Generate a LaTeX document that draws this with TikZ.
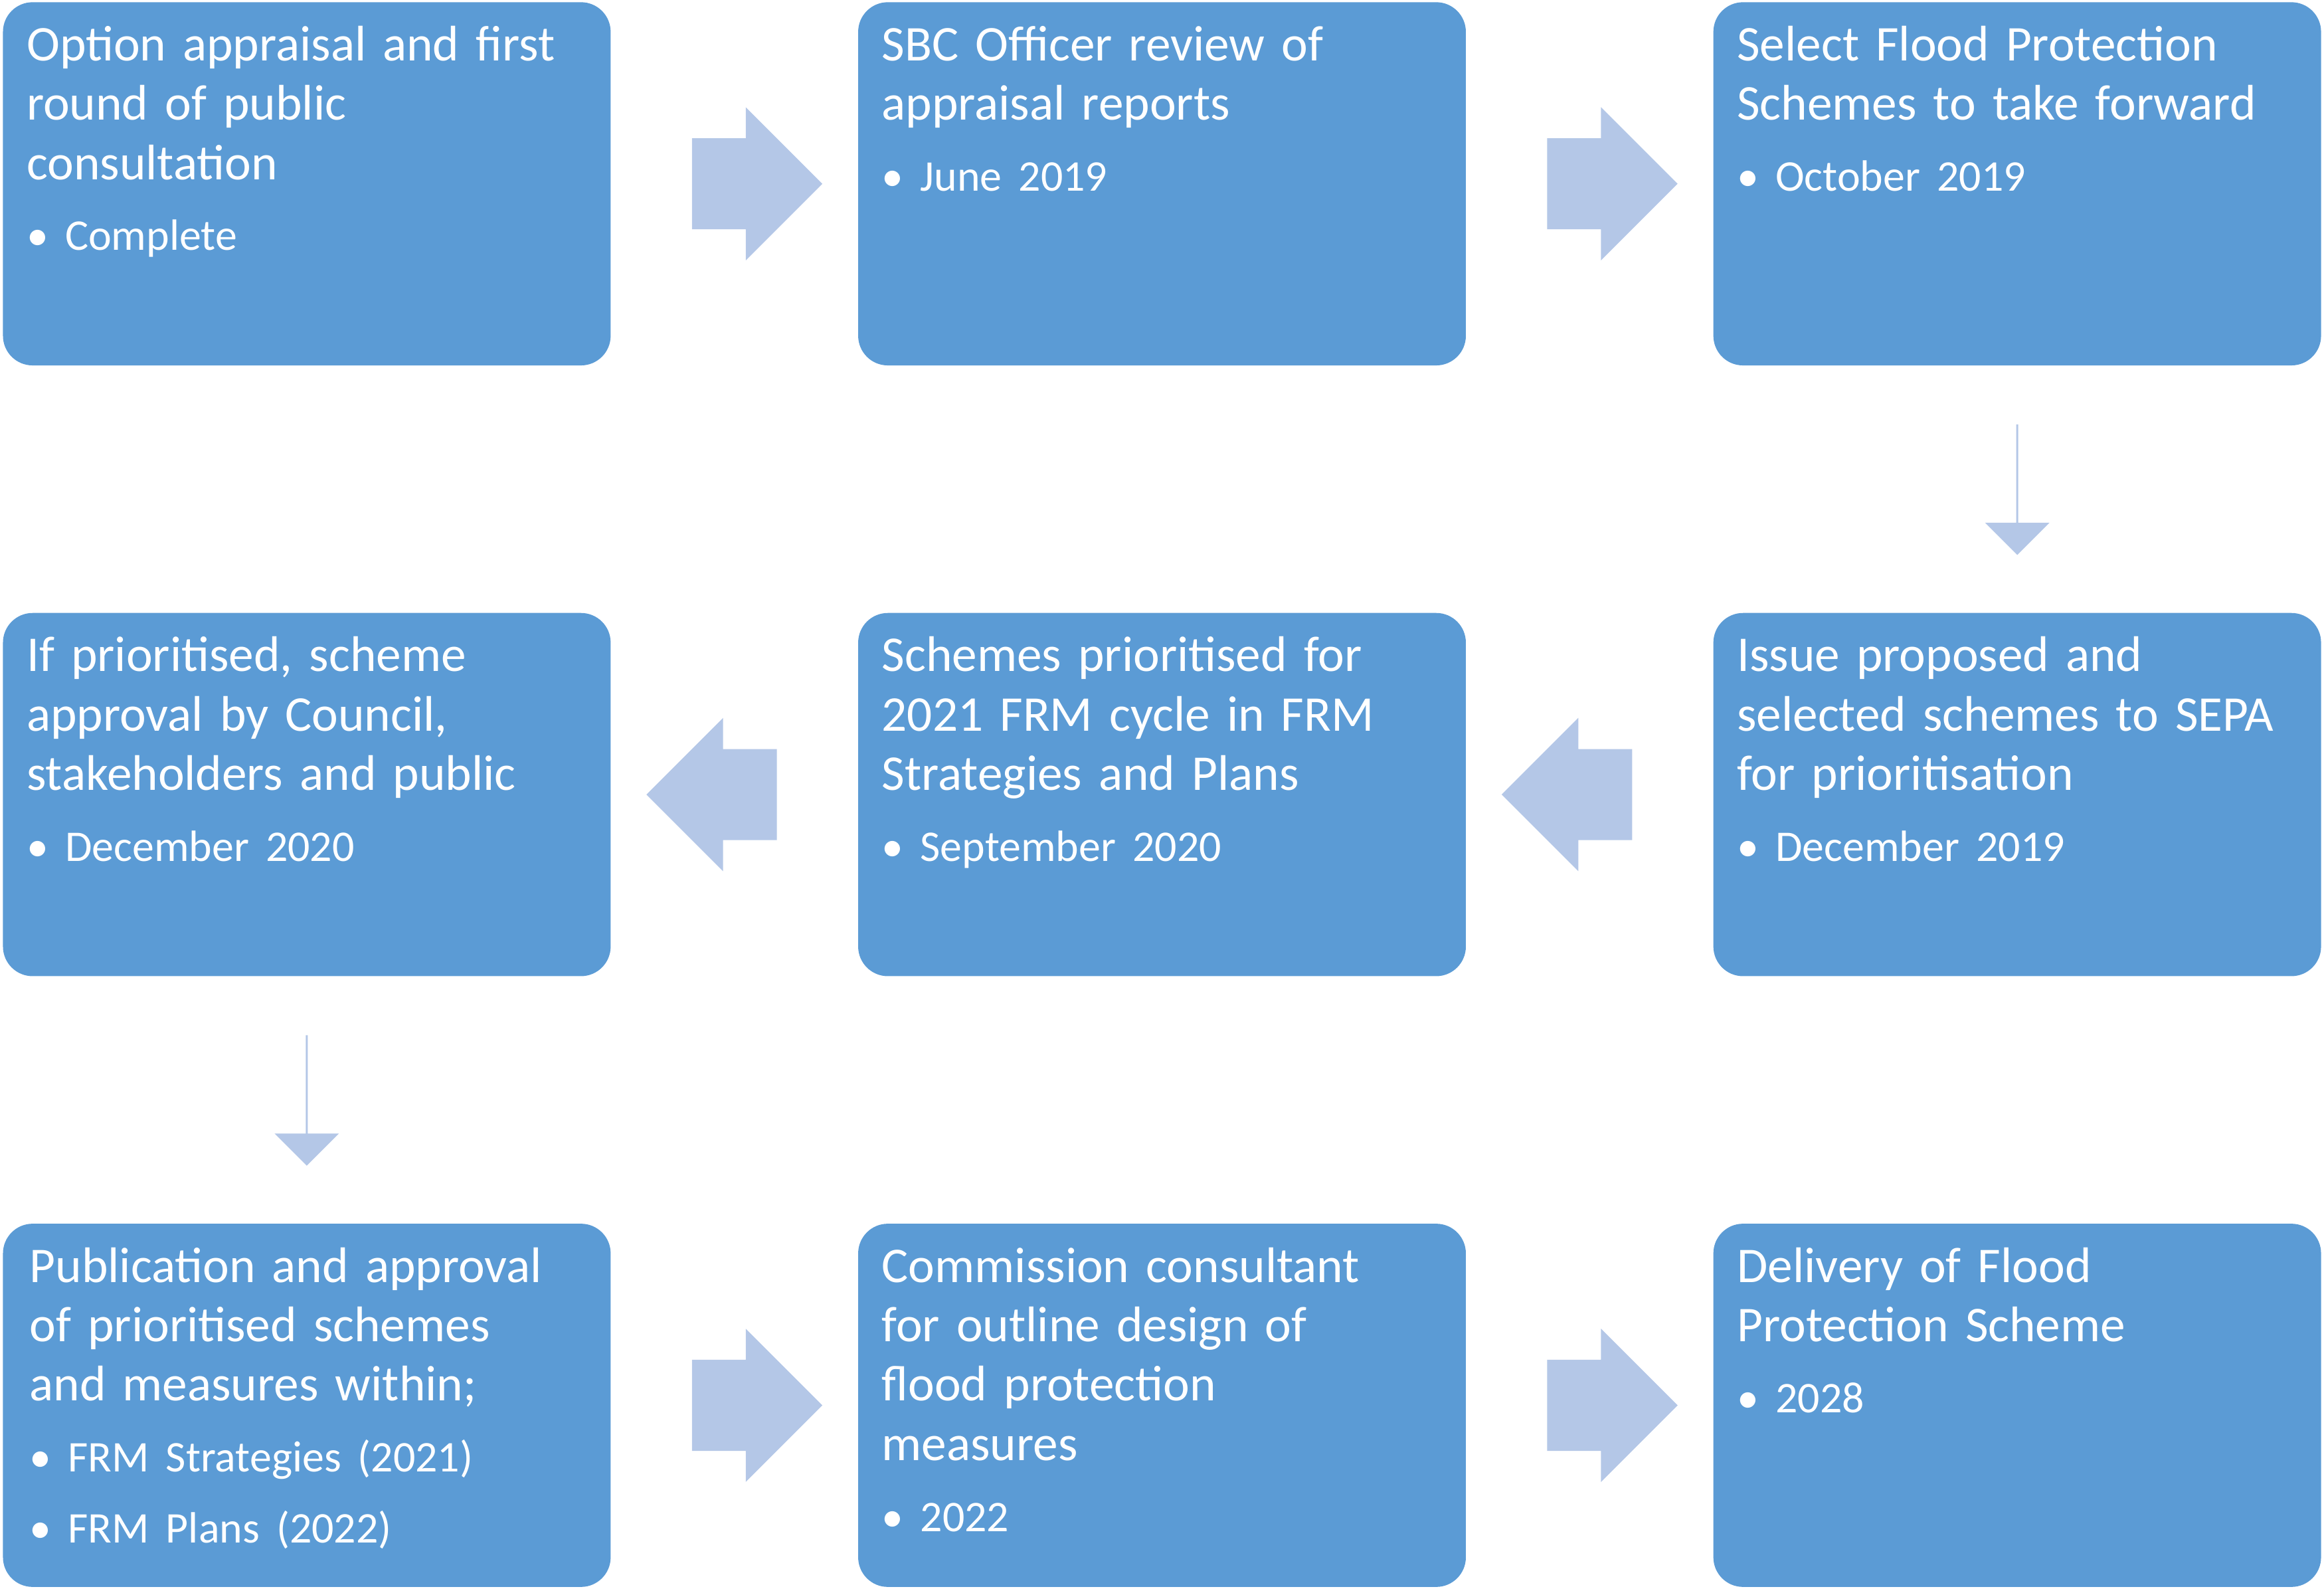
\documentclass[tikz,border=0pt]{standalone}
\usepackage{fontspec}
\setmainfont{Carlito}
\usetikzlibrary{shapes.arrows,positioning,calc}
\definecolor{boxblue}{HTML}{5B9BD5}
\definecolor{arrowblue}{HTML}{B4C7E7}
\tikzset{
  box/.style={rectangle, rounded corners=0.2cm, fill=boxblue, minimum width=4.1cm, minimum height=2.45cm, inner sep=0pt},
  txt/.style={anchor=north west, text=white, align=left, inner sep=0pt, text width=3.95cm, font=\fontsize{9.6}{11.4}\selectfont},
  blockarrow/.style={single arrow, fill=arrowblue, draw=none, minimum height=0.88cm, inner xsep=0pt, inner ysep=0.3cm, single arrow head extend=0.21cm, single arrow head indent=0pt},
}
\newcommand{\bul}[1]{\par\vspace{2.2pt}{\fontsize{8.4}{10.8}\selectfont\textbullet\ #1}}

\begin{document}
\begin{tikzpicture}
\useasboundingbox (0,0) rectangle (15.68,10.73);

% boxes
\node[box] (b1) at (2.07,9.49) {};
\node[box] (b2) at (7.84,9.49) {};
\node[box] (b3) at (13.61,9.49) {};
\node[box] (b4) at (13.61,5.37) {};
\node[box] (b5) at (7.84,5.37) {};
\node[box] (b6) at (2.07,5.37) {};
\node[box] (b7) at (2.07,1.25) {};
\node[box] (b8) at (7.84,1.25) {};
\node[box] (b9) at (13.61,1.25) {};

% texts
\node[txt] (t1) at ([shift={(0.16,-0.16)}]b1.north west) {Option appraisal and first\\round of public\\consultation\bul{Complete}};
\node[txt] (t2) at ([shift={(0.16,-0.16)}]b2.north west) {SBC Officer review of\\appraisal reports\bul{June 2019}};
\node[txt] (t3) at ([shift={(0.16,-0.16)}]b3.north west) {Select Flood Protection\\Schemes to take forward\bul{October 2019}};
\node[txt] (t4) at ([shift={(0.16,-0.16)}]b4.north west) {Issue proposed and\\selected schemes to SEPA\\for prioritisation\bul{December 2019}};
\node[txt] (t5) at ([shift={(0.16,-0.16)}]b5.north west) {Schemes prioritised for\\2021 FRM cycle in FRM\\Strategies and Plans\bul{September 2020}};
\node[txt] (t6) at ([shift={(0.16,-0.16)}]b6.north west) {If prioritised, scheme\\approval by Council,\\stakeholders and public\bul{December 2020}};
\node[txt] (t7) at ([shift={(0.18,-0.16)}]b7.north west) {Publication and approval\\of prioritised schemes\\and measures within;\bul{FRM Strategies (2021)}\bul{FRM Plans (2022)}};
\node[txt] (t8) at ([shift={(0.16,-0.16)}]b8.north west) {Commission consultant\\for outline design of\\flood protection\\measures\bul{2022}};
\node[txt] (t9) at ([shift={(0.16,-0.16)}]b9.north west) {Delivery of Flood\\Protection Scheme\bul{2028}};

% arrows
\node[blockarrow] (a12) at ($(b1.east)!0.5!(b2.west)$) {};
\node[blockarrow] (a23) at ($(b2.east)!0.5!(b3.west)$) {};
\node[blockarrow, shape border rotate=270] (a34) at ($(b3.south)!0.5!(b4.north)$) {};
\node[blockarrow, shape border rotate=180] (a45) at ($(b4.west)!0.5!(b5.east)$) {};
\node[blockarrow, shape border rotate=180] (a56) at ($(b5.west)!0.5!(b6.east)$) {};
\node[blockarrow, shape border rotate=270] (a67) at ($(b6.south)!0.5!(b7.north)$) {};
\node[blockarrow] (a78) at ($(b7.east)!0.5!(b8.west)$) {};
\node[blockarrow] (a89) at ($(b8.east)!0.5!(b9.west)$) {};

\end{tikzpicture}
\end{document}
